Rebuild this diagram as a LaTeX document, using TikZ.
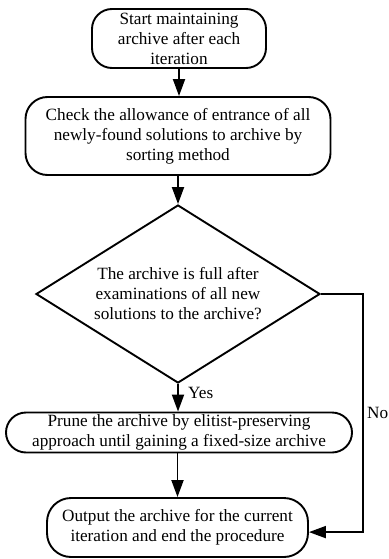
\documentclass[tikz,border=0pt]{standalone}
\usepackage{fontspec}
\setmainfont{Liberation Serif}
\usetikzlibrary{shapes.geometric,arrows.meta,calc}
\begin{document}
\begin{tikzpicture}[x=1pt,y=1pt,
  every node/.style={font=\fontsize{17.2}{20}\selectfont},
  proc/.style={draw,line width=1.9pt,align=center,inner sep=0pt},
  dec/.style={draw,line width=1.9pt,shape=diamond,aspect=1.6,align=center,inner sep=0pt},
  arr/.style={line width=1.9pt,-{Triangle[length=17pt,width=12pt]}},
  lbl/.style={inner sep=0pt}]
\useasboundingbox (0,0) rectangle (388,-559);
\node[proc,rounded corners=20pt,minimum width=174pt,minimum height=59pt] (start) at (179,-38.5)
  {Start maintaining\\archive after each\\iteration};
\node[proc,rounded corners=22pt,minimum width=305pt,minimum height=78pt] (check) at (178,-136)
  {Check the allowance of entrance of all\\newly-found solutions to archive by\\sorting method};
\node[dec,minimum width=284pt,minimum height=178pt] (full) at (178,-294)
  {The archive is full after\\examinations of all new\\solutions to the archive?};
\node[proc,rounded corners=20pt,minimum width=346pt,minimum height=40pt] (prune) at (179,-432.5)
  {Prune the archive by elitist-preserving\\approach until gaining a fixed-size archive};
\node[proc,rounded corners=24pt,minimum width=261pt,minimum height=59pt] (out) at (177.5,-527.5)
  {Output the archive for the current\\iteration and end the procedure};
\coordinate (turn) at (363,-294);
\draw[arr] (start.south) -- (start.south |- check.north);
\draw[arr] (check.south -| full.north) -- (full.north);
\draw[arr] (full.south) -- (full.south |- prune.north);
\draw[arr] (prune.south -| out.north) -- (out.north);
\draw[arr] (full.east) -- (turn) |- (out.-2.4);
\node[lbl,anchor=west] (yes) at (188,-393) {Yes};
\node[lbl,anchor=west] (no) at (367,-413) {No};
\end{tikzpicture}
\end{document}
